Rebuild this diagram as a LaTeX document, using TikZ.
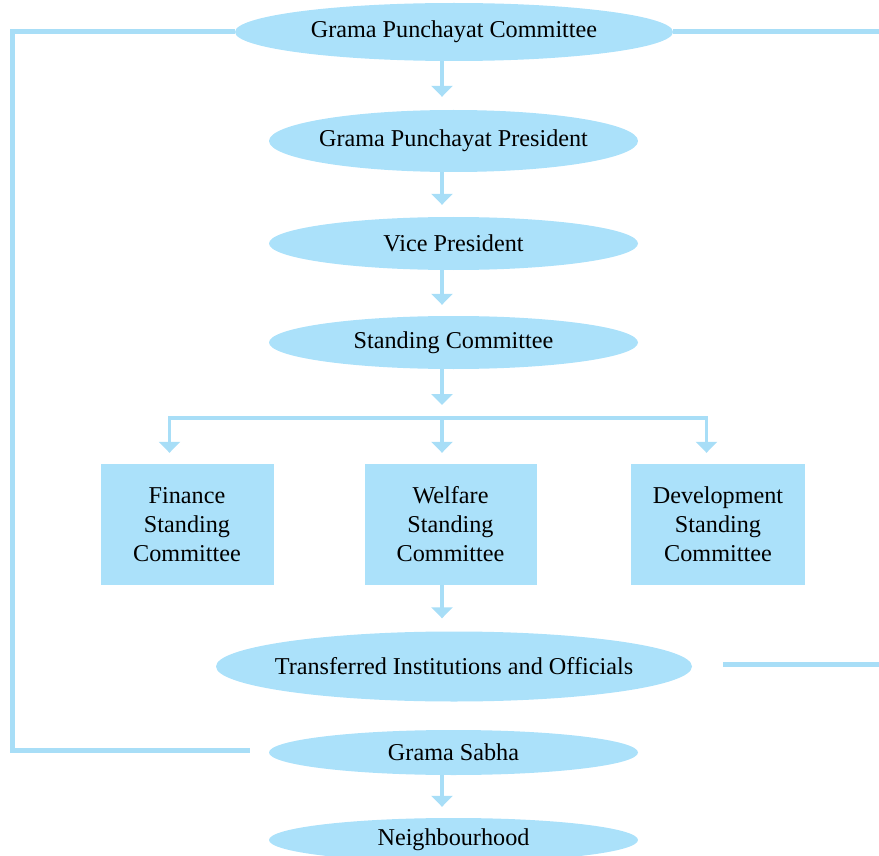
\documentclass[tikz,border=0pt]{standalone}
\usepackage{fontspec}
\setmainfont{Liberation Serif}
\usetikzlibrary{shapes.geometric,arrows.meta}
\definecolor{lb}{HTML}{ABE1FA}
\definecolor{lbl}{HTML}{A8DEF7}
\newcommand{\zb}[1]{\makebox[0pt]{#1}}
\tikzset{
  ell/.style={ellipse, fill=lb, draw=none, inner sep=0pt, font=\fontsize{24.2}{29}\selectfont},
  boxn/.style={rectangle, fill=lb, draw=none, inner sep=0pt, minimum height=121pt, align=center, font=\fontsize{24.2}{29}\selectfont},
  arr/.style={draw=lbl, line width=3.5pt, -{Triangle[width=21pt,length=11pt]}},
  lnk/.style={draw=lbl, line width=3.5pt},
  side/.style={draw=lbl, line width=5pt}
}
\begin{document}
\begin{tikzpicture}[x=1pt,y=-1pt]
\useasboundingbox (0,0) rectangle (879,856);
\clip (0,0) rectangle (879,856);
% nodes
\node[ell, minimum width=438pt, minimum height=58pt] (gpc) at (454,32) {\zb{Grama Punchayat Committee}};
\node[ell, minimum width=369pt, minimum height=62pt] (gpp) at (453.5,141) {\zb{Grama Punchayat President}};
\node[ell, minimum width=369pt, minimum height=53pt] (vp) at (453.5,243.5) {\zb{Vice President}};
\node[ell, minimum width=369pt, minimum height=53pt] (sc) at (453.5,342.5) {\zb{Standing Committee}};
\node[boxn, minimum width=173pt] (fin) at (187,524.5) {Finance\\Standing\\Committee};
\node[boxn, minimum width=172pt] (wel) at (450.5,524.5) {Welfare\\Standing\\Committee};
\node[boxn, minimum width=174pt] (dev) at (718,524.5) {Development\\Standing\\Committee};
\node[ell, minimum width=476pt, minimum height=70pt] (tio) at (454,666.5) {\zb{Transferred Institutions and Officials}};
\node[ell, minimum width=369pt, minimum height=45pt] (gs) at (453.5,752.5) {\zb{Grama Sabha}};
\node[ell, minimum width=369pt, minimum height=44pt] (nb) at (453.5,840) {\zb{Neighbourhood}};
% vertical arrows
\draw[arr] ([xshift=-12pt]gpc.south) -- ([xshift=-11.5pt,yshift=13pt]gpp.north);
\draw[arr] ([xshift=-11.5pt]gpp.south) -- ([xshift=-11.5pt,yshift=12pt]vp.north);
\draw[arr] ([xshift=-11.5pt]vp.south) -- ([xshift=-11.5pt,yshift=11pt]sc.north);
% branch
\coordinate (bm) at (442,418);
\coordinate (bl) at (169.5,418);
\coordinate (br) at (706.5,418);
\draw[arr] ([xshift=-11.5pt]sc.south) -- ([yshift=13pt]bm);
\draw[lnk, line cap=rect] (bl) -- (br);
\draw[arr] (bl) -- ([xshift=-17.5pt,yshift=11pt]fin.north);
\draw[arr] (bm) -- ([xshift=-8.5pt,yshift=11pt]wel.north);
\draw[arr] (br) -- ([xshift=-11.5pt,yshift=11pt]dev.north);
\draw[arr] ([xshift=-8.5pt]wel.south) -- ([xshift=-12pt,yshift=13pt]tio.north);
\draw[arr] ([xshift=-11.5pt]gs.south) -- ([xshift=-11.5pt,yshift=11pt]nb.north);
% side lines
\coordinate (lt) at (12.5,32);
\coordinate (lb) at (12.5,750.5);
\coordinate (le) at (250,750.5);
\draw[side] (gpc.west) -- (lt) -- (lb) -- (le);
\coordinate (rt) at (879,32);
\draw[side] (gpc.east) -- (rt);
\coordinate (rm1) at (723,664.5);
\coordinate (rm2) at (879,664.5);
\draw[side] (rm1) -- (rm2);
\end{tikzpicture}
\end{document}
